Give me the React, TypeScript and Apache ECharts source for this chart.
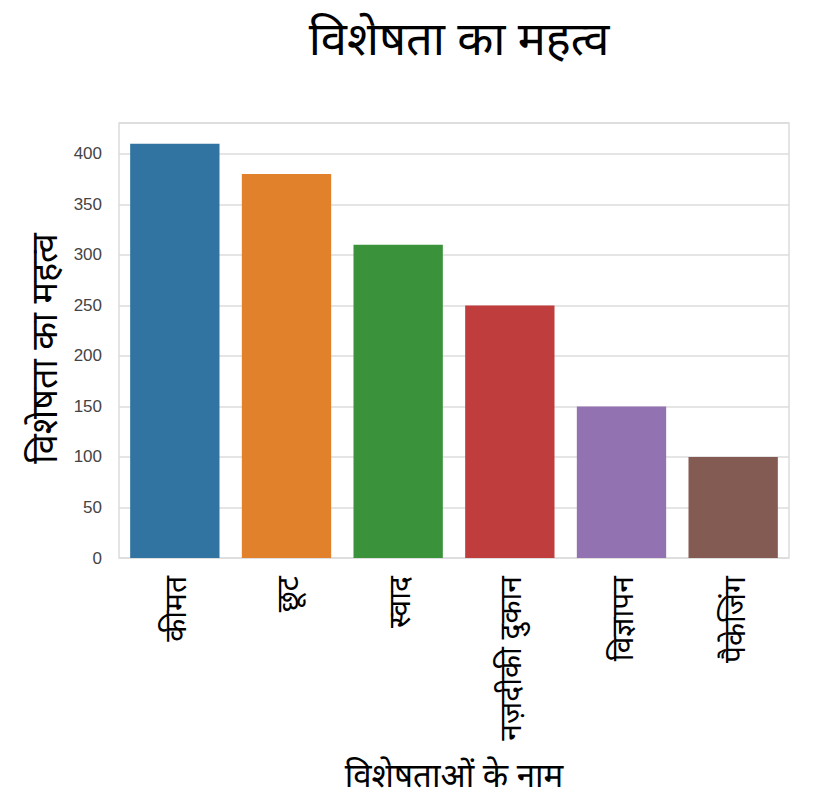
import { useEffect, useRef } from 'react';
import * as echarts from 'echarts';

const categories = ['कीमत', 'छूट', 'स्वाद', 'नज़दीकी दुकान', 'विज्ञापन', 'पैकेजिंग'];
const values = [410, 380, 310, 250, 150, 100];
const barColors = ['#3274a1', '#e1812c', '#3a923a', '#c03d3e', '#9372b2', '#845b53'];

const titleText = 'विशेषता का महत्व';
const yAxisTitle = 'विशेषता का महत्व';
const xAxisTitle = 'विशेषताओं के नाम';

const hindiFont = "'Noto Sans', 'Noto Sans Devanagari', 'Lohit Devanagari', sans-serif";

const App = () => {
  const divRef = useRef<HTMLDivElement | null>(null);

  useEffect(() => {
    if (!divRef.current) return;
    const chart = echarts.init(divRef.current, undefined, { renderer: 'svg' });

    chart.setOption({
      animation: false,
      backgroundColor: '#ffffff',
      title: {
        text: titleText,
        left: 454,
        top: 8,
        textAlign: 'center',
        textStyle: { fontFamily: hindiFont, fontSize: 47, fontWeight: 'normal', color: '#000' },
      },
      grid: {
        left: 119,
        right: 29,
        top: 123,
        bottom: 252,
        show: true,
        borderColor: '#dcdcdc',
        borderWidth: 1.5,
      },
      xAxis: {
        type: 'category',
        data: categories,
        name: xAxisTitle,
        nameLocation: 'middle',
        nameGap: 200,
        nameTextStyle: { fontFamily: hindiFont, fontSize: 33, color: '#000' },
        axisLine: { show: false },
        axisTick: { show: false },
        axisLabel: {
          rotate: 90,
          margin: 18,
          fontFamily: hindiFont,
          fontSize: 30,
          color: '#000',
          interval: 0,
        },
      },
      yAxis: {
        type: 'value',
        min: 0,
        max: 430.5,
        interval: 50,
        name: yAxisTitle,
        nameLocation: 'middle',
        nameRotate: 90,
        nameGap: 58,
        nameTextStyle: { fontFamily: hindiFont, fontSize: 36, color: '#000', padding: [0, 16, 0, 0] },
        axisLine: { show: false },
        axisTick: { show: false },
        axisLabel: {
          showMaxLabel: false,
          margin: 17,
          fontFamily: "'Liberation Sans', Arial, sans-serif",
          fontSize: 17,
          color: '#444',
        },
        splitLine: { lineStyle: { color: '#dcdcdc', width: 1.5 } },
      },
      series: [
        {
          type: 'bar',
          barCategoryGap: '20%',
          data: values.map((v, i) => ({ value: v, itemStyle: { color: barColors[i] } })),
        },
      ],
    });

    return () => chart.dispose();
  }, []);

  return <div ref={divRef} style={{ width: 818, height: 810, margin: -8 }} />;
};

export default App;
